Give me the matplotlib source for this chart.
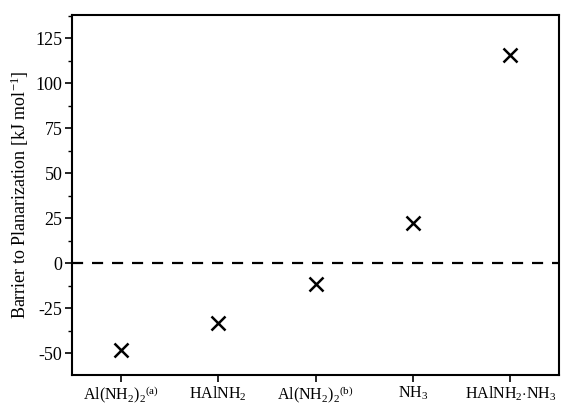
import matplotlib
matplotlib.use("Agg")
import matplotlib.pyplot as plt
from matplotlib.ticker import MultipleLocator

# dados
labels = [r"Al(NH$_2$)$_2$$^{\mathrm{(a)}}$", r"HAlNH$_2$", r"Al(NH$_2$)$_2$$^{\mathrm{(b)}}$",
          r"NH$_3$", r"HAlNH$_2$$\cdot$NH$_3$"]
barrier = [-48, -33, -11.5, 22.5, 116]

plt.rcParams['font.family'] = ['Liberation Serif', 'DejaVu Serif']
plt.rcParams['mathtext.fontset'] = 'custom'
plt.rcParams['mathtext.rm'] = 'Liberation Serif'
plt.rcParams['mathtext.it'] = 'Liberation Serif:italic'
plt.rcParams['axes.unicode_minus'] = False

fig = plt.figure(figsize=(5.69, 4.09), dpi=100)
ax = fig.add_axes([72/569, 1 - 375/409, (559-72)/569, (375-15)/409])

x = list(range(1, len(labels) + 1))
ax.plot(x, barrier, linestyle='none', marker='x', color='black',
        markersize=10, markeredgewidth=1.8)
ax.axhline(0, color='black', linestyle=(0, (5, 4)), linewidth=1.6)

ax.set_xlim(0.5, 5.5)
ax.set_ylim(-62, 138)
ax.set_xticks(x)
ax.set_xticklabels(labels, fontsize=11.5)
ax.yaxis.set_major_locator(MultipleLocator(25))
ax.yaxis.set_minor_locator(MultipleLocator(12.5))
ax.tick_params(axis='y', labelsize=13, direction='out', length=5, width=1.2, pad=2)
ax.tick_params(axis='y', which='minor', length=3, width=1)
ax.tick_params(axis='x', direction='out', length=5, width=1.2, pad=2)
ax.set_ylabel("Barrier to Planarization [kJ mol$^{-1}$]", fontsize=13, labelpad=3)

for s in ax.spines.values():
    s.set_linewidth(1.5)

plt.savefig("out.png", dpi=100)
